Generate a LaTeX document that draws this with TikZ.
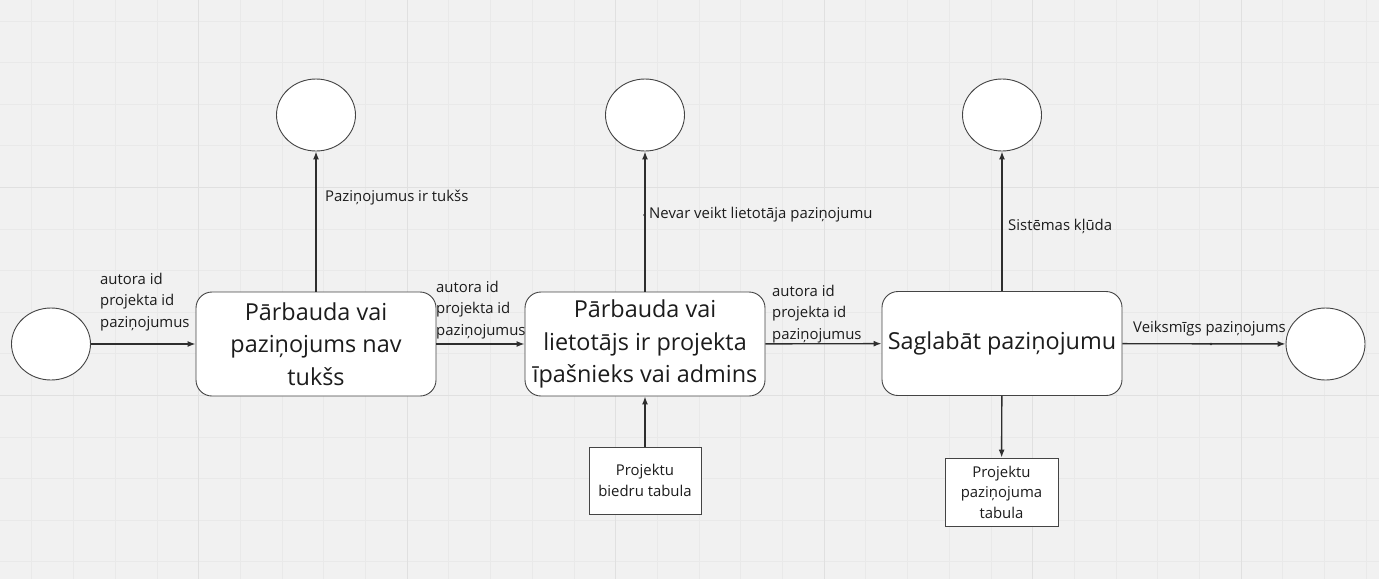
\documentclass[tikz,border=0pt]{standalone}
\usepackage{fontspec}
\setmainfont{Open Sans}
\usetikzlibrary{shapes.geometric,arrows.meta}
\definecolor{bg}{HTML}{F1F1F1}
\definecolor{gridminor}{HTML}{E9E9E9}
\definecolor{gridmajor}{HTML}{E0E0E0}
\definecolor{ink}{HTML}{1C1C1C}
\definecolor{edge}{HTML}{2E2E2E}
\definecolor{border}{HTML}{444444}
\tikzset{
  terminal/.style={ellipse, draw=border, line width=0.9pt, fill=white, inner sep=0pt, minimum width=79pt, minimum height=72pt},
  procbox/.style={rectangle, rounded corners=16pt, draw=border, line width=0.9pt, fill=white, minimum width=240pt, minimum height=104pt, align=center, text=ink, font=\fontsize{23.4}{32.5}\selectfont},
  store/.style={rectangle, draw=border, line width=0.9pt, fill=white, align=center, text=ink, font=\fontsize{14.9}{20.5}\selectfont},
  flow/.style={draw=edge, line width=1.4pt, -{Latex[length=8pt,width=6pt]}},
  lbl/.style={anchor=west, align=left, text=ink, inner sep=0pt, font=\fontsize{14.9}{21.5}\selectfont}
}
\begin{document}
\begin{tikzpicture}[x=1pt,y=-1pt]
\useasboundingbox (0,0) rectangle (1379,579);
\fill[bg] (0,0) rectangle (1379,579);
% grid
\foreach \i in {0,...,32} {
  \draw[gridminor, line width=0.8pt] ({31.8+41.7*\i},0) -- ({31.8+41.7*\i},579);
}
\foreach \j in {0,...,13} {
  \draw[gridminor, line width=0.8pt] (0,{21+41.6*\j}) -- (1379,{21+41.6*\j});
}
\foreach \i in {4,9,14,19,24,29} {
  \draw[gridmajor, line width=1pt] ({31.8+41.7*\i},0) -- ({31.8+41.7*\i},579);
}
\foreach \j in {4,9} {
  \draw[gridmajor, line width=1pt] (0,{21+41.6*\j}) -- (1379,{21+41.6*\j});
}

% nodes
\node[terminal] (start) at (51,344) {};
\node[terminal] (c1) at (316,115) {};
\node[terminal] (c2) at (645,115) {};
\node[terminal] (c3) at (1002,115) {};
\node[terminal] (end) at (1325.5,344) {};

\node[procbox] (b1) at (316,344) {Pārbauda vai\\paziņojums nav\\tukšs};
\node[procbox] (b2) at (645,344) {Pārbauda vai\\lietotājs ir projekta\\īpašnieks vai admins};
\node[procbox] (b3) at (1002,343.5) {Saglabāt paziņojumu};

\node[store, minimum width=112pt, minimum height=67pt] (t1) at (645,480.5) {Projektu\\biedru tabula};
\node[store, minimum width=113pt, minimum height=68pt] (t2) at (1001.5,492) {Projektu\\paziņojuma\\tabula};

% connectors
\draw[flow] (start) -- (b1);
\draw[flow] (b1) -- (b2);
\draw[flow] (b2) -- (b3);
\draw[flow] (b3) -- (end);
\draw[flow] (b1) -- (c1);
\draw[flow] (b2) -- (c2);
\draw[flow] (b3) -- (c3);
\draw[flow] (t1) -- (b2);
\draw[flow] (b3) -- (t2);

% small label anchor dots
\fill[edge] (644.5,215) circle (1.4pt);
\fill[edge] (1211,344) circle (1.4pt);

% labels
\node[lbl] (l1) at (100,302) {autora id\\projekta id\\paziņojumus};
\node[lbl] (l2) at (436,310) {autora id\\projekta id\\paziņojumus};
\node[lbl] (l3) at (772,314) {autora id\\projekta id\\paziņojumus};
\node[lbl] (l4) at (325,198) {Paziņojumus ir tukšs};
\node[lbl] (l5) at (649,215) {Nevar veikt lietotāja paziņojumu};
\node[lbl] (l6) at (1008,226) {Sistēmas kļūda};
\node[lbl] (l7) at (1133,329) {Veiksmīgs paziņojums};
\end{tikzpicture}
\end{document}
